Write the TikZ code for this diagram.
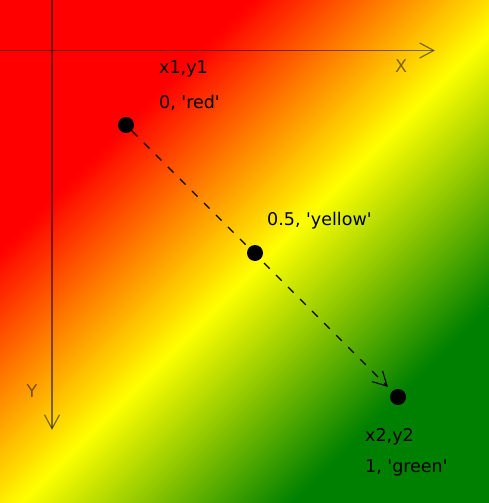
\documentclass[tikz,border=0pt]{standalone}
\usepackage{fontspec}
\setmainfont{DejaVu Sans}
\usetikzlibrary{arrows.meta}
\usetikzlibrary{calc}
\usetikzlibrary{positioning}
\definecolor{gradred}{RGB}{255,0,0}
\definecolor{gradyellow}{RGB}{255,255,0}
\definecolor{gradgreen}{RGB}{0,128,0}

\begin{document}
\begin{tikzpicture}
	[x=1pt, y=-1pt,
	> = {Straight Barb[length=14pt,width=15pt]},
	every node/.style={font=\fontsize{17.5}{22}\selectfont},
	dot/.style = {fill=black,circle,inner sep=0pt,minimum size=16pt},
	axis/.style = {draw=black, draw opacity=0.5, line width=1.2pt},
	axislabel/.style = {text=black, text opacity=0.5, inner sep=0pt},
	dashedline/.style = {draw=black, line width=1.1pt, dash pattern=on 8pt off 9pt},
	info/.style = {anchor=base west, inner sep=0pt}
	]
	\useasboundingbox (0,0) rectangle (489,503);
	\coordinate (p1) at (126,125);
	\coordinate (p3) at (398,397);
	\coordinate (mid) at ($(p1)!0.5!(p3)$);

	% diagonal gradient red - yellow - green
	\begin{scope}
	\clip (0,0) rectangle (489,503);
	\begin{scope}[transform canvas={rotate around={-45:(mid)}}]
	\fill[gradred] ($(mid)+(-800,-800)$) rectangle ($(mid)+(-192,800)$);
	\fill[gradgreen] ($(mid)+(192,-800)$) rectangle ($(mid)+(800,800)$);
	\shade[left color=gradred, right color=gradgreen, middle color=gradyellow]
		($(mid)+(-192.4,-800)$) rectangle ($(mid)+(192.4,800)$);
	\end{scope}
	\end{scope}

	\coordinate (xfrom) at (0,50.5);
	\coordinate (xto) at (435,50.5);
	\coordinate (yfrom) at (52,0);
	\coordinate (yto) at (52,430);
	\draw[axis, ->] (xfrom) -- (xto);
	\draw[axis, ->] (yfrom) -- (yto);
	\node[axislabel] (xlab) at (401,66) {X};
	\node[axislabel] (ylab) at (32,391) {Y};

	\node[dot] (start) at (p1) {};
	\node[dot] (half) at (255,253) {};
	\node[dot] (end) at (p3) {};
	\draw[dashedline, ->, shorten >=6pt] (start) -- (end);

	\node[info] (startxy) at (159,74) {x1,y1};
	\node[info] (startval) at (159,108) {0, \textquotesingle red\textquotesingle};
	\node[info] (halfval) at (267,225) {0.5, \textquotesingle yellow\textquotesingle};
	\node[info] (endxy) at (365,441) {x2,y2};
	\node[info] (endval) at (365,472) {1, \textquotesingle green\textquotesingle};
\end{tikzpicture}
\end{document}
